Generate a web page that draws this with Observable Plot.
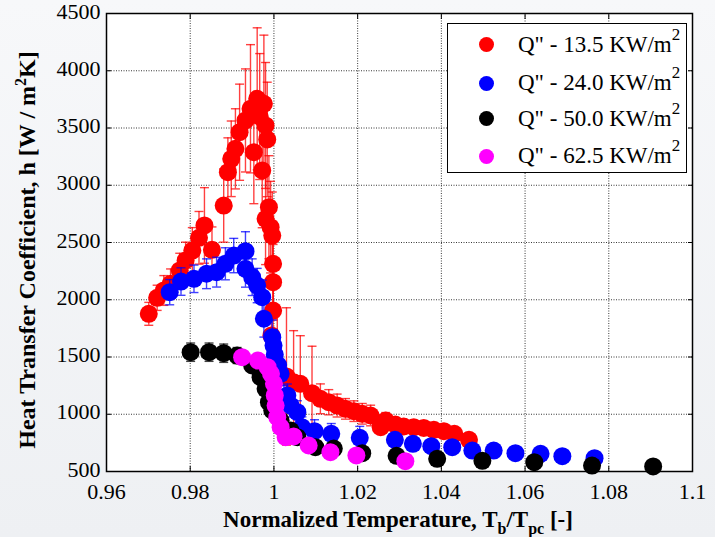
<!DOCTYPE html>
<html><head><meta charset="utf-8">
<script src="https://cdn.jsdelivr.net/npm/d3@7"></script>
<script src="https://cdn.jsdelivr.net/npm/@observablehq/plot@0.6"></script>
<style>
html,body{margin:0;padding:0;background:#f0f2f5;}
#wrap{position:relative;width:715px;height:537px;overflow:hidden;background:linear-gradient(180deg,#f7f8fa 0%,#eef0f3 100%);}
#wrap svg{position:absolute;left:0;top:0;}
#legend{position:absolute;left:447px;top:23px;width:238px;height:148px;background:#fff;border:1.5px solid #000;font-family:"Liberation Serif","Times New Roman",serif;font-size:23px;color:#000;}
.sw{position:absolute;width:15px;height:15px;border-radius:50%;}
.lbl{position:absolute;white-space:nowrap;line-height:1;font-family:"Liberation Serif","Times New Roman",serif;}
.lbl sup{font-size:17px;position:relative;top:-3px;vertical-align:super;line-height:0;}
</style>
</head><body>
<div id="wrap"></div>
<script>
// ---- data ----
const xTicks = [0.96, 0.98, 1.0, 1.02, 1.04, 1.06, 1.08, 1.1];
const xTickLabels = ["0.96", "0.98", "1", "1.02", "1.04", "1.06", "1.08", "1.1"];
const yTicks = [500, 1000, 1500, 2000, 2500, 3000, 3500, 4000, 4500];
const yTickLabels = ["500", "1000", "1500", "2000", "2500", "3000", "3500", "4000", "4500"];

const seriesNames = ["Q\" - 13.5 KW/m", "Q\" - 24.0 KW/m", "Q\" - 50.0 KW/m", "Q\" - 62.5 KW/m"];
const seriesColors = ["#ff0000", "#0000ff", "#000000", "#ff00ff"];

const redX = [0.9701,0.9721,0.9737,0.9753,0.9775,0.9789,0.9805,0.9821,0.9834,0.9852,0.9880,0.9890,0.9898,0.9908,0.9918,0.9932,0.9944,0.9952,0.9960,0.9966,0.9972,0.9976,0.9980,0.9984,0.9988,0.9980,0.9992,0.9996,0.9998,0.9998,0.9998,0.9994,1.0008,1.0030,1.0047,1.0063,1.0091,1.0111,1.0131,1.0151,1.0171,1.0191,1.0211,1.0231,1.0255,1.0267,1.0290,1.0310,1.0334,1.0358,1.0382,1.0406,1.0431,1.0466];
const redY = [1877,2017,2081,2139,2256,2343,2430,2541,2649,2436,2823,3114,3231,3318,3463,3566,3668,3289,3755,3600,3129,3711,3522,3400,2808,2707,2634,2561,2314,2153,1906,1688,1400,1330,1280,1266,1184,1135,1105,1076,1047,1027,1004,989,887,945,910,893,887,881,864,852,829,777];
const redErr = [100,110,130,130,150,160,200,230,330,200,320,300,330,350,420,450,560,450,620,550,500,600,550,500,450,400,400,380,350,330,300,280,500,600,450,420,410,130,110,100,90,90,90,90,50,70,40,30,30,30,30,30,30,20];

const blueX = [0.9751,0.9778,0.9809,0.9839,0.9863,0.9884,0.9904,0.9932,0.9932,0.9948,0.9960,0.9972,0.9976,0.9996,0.9999,1.0002,1.0010,1.0016,1.0024,1.0032,1.0040,1.0056,1.0067,1.0097,1.0137,1.0205,1.0289,1.0332,1.0376,1.0426,1.0474,1.0525,1.0577,1.0637,1.0689,1.0766];
const blueY = [2066,2159,2183,2227,2241,2314,2386,2424,2270,2197,2124,2022,1834,1673,1600,1520,1430,1353,1149,1164,1076,1018,887,852,829,794,777,742,721,712,683,683,660,654,634,616];
const blueErr = [110,120,120,130,130,140,150,170,160,160,150,150,160,150,140,120,110,100,100,100,100,100,90,100,90,100,0,0,0,0,0,0,0,0,0,0];

const blackX = [0.9801,0.9845,0.9880,0.9912,0.9948,0.9968,0.9980,0.9988,0.9996,1.0016,1.0040,1.0056,1.0099,1.0143,1.0211,1.0293,1.0390,1.0498,1.0622,1.0760,1.0906];
const blackY = [1542,1542,1533,1513,1426,1324,1222,1105,1033,945,858,800,712,700,660,637,611,593,581,552,544];
const blackErr = [80,80,80,70,60,50,50,40,40,30,0,0,0,0,0,0,0,0,0,0,0];

const magX = [0.9924,0.9962,0.9985,0.9993,1.0000,1.0002,1.0004,1.0008,1.0016,1.0028,1.0047,1.0083,1.0135,1.0197,1.0314];
const magY = [1498,1469,1411,1353,1266,1164,1076,974,887,800,806,727,669,640,590];
const magErr = [40,40,30,30,30,0,0,0,0,0,0,0,0,0,0];

// ---- build tables ----
const seriesData = [[redX,redY,redErr],[blueX,blueY,blueErr],[blackX,blackY,blackErr],[magX,magY,magErr]];
const tables = seriesData.map(([xs,ys,es], k) => xs.map((x,i) => ({x, y: ys[i], e: es[i], s: k})));

const capSymbol = {draw(ctx, size){ const w = Math.sqrt(size/Math.PI); ctx.moveTo(-w,0); ctx.lineTo(w,0); }};

const seriesMarks = [];
tables.forEach((rows, k) => {
  const c = seriesColors[k];
  const withErr = rows.filter(d => d.e > 0);
  const caps = withErr.flatMap(d => [{x:d.x, y:d.y - d.e}, {x:d.x, y:d.y + d.e}]);
  seriesMarks.push(
    Plot.ruleX(withErr, {x:"x", y1: d => d.y - d.e, y2: d => d.y + d.e, stroke: c, strokeWidth: 1.4, strokeOpacity: 0.75}),
    Plot.dot(caps, {x:"x", y:"y", symbol: capSymbol, r: 4.5, fill: "none", stroke: c, strokeWidth: 1.4, strokeOpacity: 0.75}),
    Plot.dot(rows, {x:"x", y:"y", r: 9, fill: c, stroke: "none"})
  );
});

const serif = "'Liberation Serif', 'Times New Roman', serif";
const fmtX = d => xTickLabels[xTicks.findIndex(t => Math.abs(t - d) < 1e-9)];
const fmtY = d => yTickLabels[yTicks.indexOf(d)];
const empty = () => "";

const plot = Plot.plot({
  width: 715, height: 537,
  marginLeft: 106, marginRight: 23, marginTop: 13, marginBottom: 66,
  x: {domain: [0.96, 1.1]},
  y: {domain: [500, 4500]},
  style: {background: "transparent", fontFamily: serif, fontSize: "22px", color: "#000", overflow: "visible"},
  marks: [
    Plot.frame({fill: "#fff", stroke: "none"}),
    Plot.gridX(xTicks, {stroke: "#222", strokeOpacity: 0.9, strokeDasharray: "1,1.5"}),
    Plot.gridY(yTicks, {stroke: "#222", strokeOpacity: 0.9, strokeDasharray: "1,1.5"}),
    ...seriesMarks,
    Plot.axisX({ticks: xTicks, anchor: "bottom", tickSize: 5, dy: -5, tickFormat: empty, label: null}),
    Plot.axisX({ticks: xTicks, anchor: "top", tickSize: 5, dy: 5, tickFormat: empty, label: null}),
    Plot.axisY({ticks: yTicks, anchor: "left", tickSize: 5, dx: 5, tickFormat: empty, label: null}),
    Plot.axisY({ticks: yTicks, anchor: "right", tickSize: 5, dx: -5, tickFormat: empty, label: null}),
    Plot.axisX({ticks: xTicks, anchor: "bottom", tickSize: 0, tickPadding: 12, tickFormat: fmtX, label: null, fontSize: 22, fontFamily: serif}),
    Plot.axisY({ticks: yTicks, anchor: "left", tickSize: 0, tickPadding: 6, tickFormat: fmtY, label: null, fontSize: 22, fontFamily: serif, dy: -2}),
    Plot.frame({stroke: "#000", strokeWidth: 1.5})
  ]
});

const wrap = document.getElementById("wrap");
wrap.appendChild(plot);

// axis titles with sub/superscripts
const svg = d3.select(plot);
const xt = svg.append("text")
  .attr("x", 398).attr("y", 527)
  .attr("text-anchor", "middle")
  .attr("font-family", serif).attr("font-weight", "bold").attr("font-size", 23).attr("fill", "#000");
xt.append("tspan").text("Normalized Temperature, T");
xt.append("tspan").attr("dy", 7).attr("font-size", 16).text("b");
xt.append("tspan").attr("dy", -7).text("/T");
xt.append("tspan").attr("dy", 7).attr("font-size", 16).text("pc");
xt.append("tspan").attr("dy", -7).text(" [-]");

const yt = svg.append("text")
  .attr("transform", "translate(35,250) rotate(-90)")
  .attr("text-anchor", "middle")
  .attr("font-family", serif).attr("font-weight", "bold").attr("font-size", 24).attr("fill", "#000");
yt.append("tspan").text("Heat Transfer Coefficient, h [W / m");
yt.append("tspan").attr("dy", -9).attr("font-size", 16).text("2");
yt.append("tspan").attr("dy", 9).text("K]");

// legend
const legend = document.createElement("div");
legend.id = "legend";
const rowY = [20.7, 59, 94.7, 132];
seriesNames.forEach((name, i) => {
  const sw = document.createElement("div");
  sw.className = "sw";
  sw.style.background = seriesColors[i];
  sw.style.left = (38 - 7.5) + "px";
  sw.style.top = (rowY[i] - 7.5) + "px";
  legend.appendChild(sw);
  const lb = document.createElement("div");
  lb.className = "lbl";
  lb.style.left = "70px";
  lb.style.top = (rowY[i] - 12) + "px";
  lb.appendChild(document.createTextNode(name));
  const sup = document.createElement("sup");
  sup.textContent = "2";
  lb.appendChild(sup);
  legend.appendChild(lb);
});
wrap.appendChild(legend);
</script>
</body></html>
